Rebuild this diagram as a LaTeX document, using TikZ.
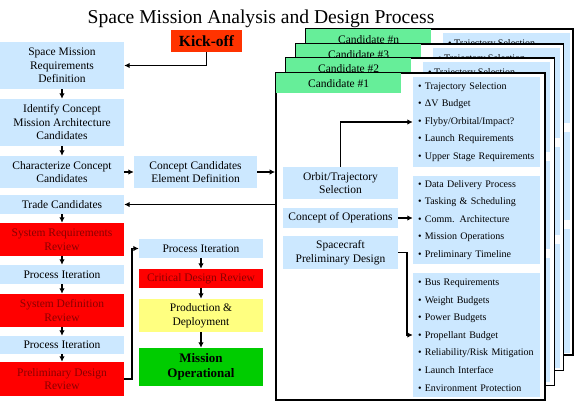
\documentclass[tikz,border=0pt]{standalone}
\usepackage{fontspec}
\setmainfont{Liberation Serif}
\usetikzlibrary{arrows.meta}
\definecolor{lblue}{HTML}{CCE8FF}
\definecolor{rbox}{HTML}{FF0000}
\definecolor{rtext}{HTML}{8A0000}
\definecolor{kick}{HTML}{FF3300}
\definecolor{ybox}{HTML}{FFFF80}
\definecolor{gbox}{HTML}{00CC00}
\definecolor{gtab}{HTML}{66EE99}
\begin{document}
\begin{tikzpicture}[x=1pt,y=-1pt,
  bx/.style={inner sep=0pt, align=center, font=\fontsize{11.5}{13.5}\selectfont},
  bluebox/.style={bx, fill=lblue},
  redbox/.style={bx, fill=rbox, text=rtext},
  arr/.style={line width=1.7pt, -{Latex[length=5.5pt,width=5.5pt]}},
  frame/.style={draw=black, line width=1.7pt, fill=white, inner sep=0pt},
  tab/.style={bx, fill=gtab, anchor=north west, minimum width=125pt, minimum height=20pt},
  list/.style={fill=lblue, inner xsep=5pt, inner ysep=0pt, align=left, text width=117pt, font=\fontsize{10}{17.6}\selectfont},
  item/.style={anchor=west, inner sep=0pt, font=\fontsize{10}{12}\selectfont},
  lw/.style={minimum width=124pt}
]
\useasboundingbox (0,0) rectangle (576,402);

% title
\node[anchor=base, inner sep=0pt, font=\fontsize{19.6}{22}\selectfont] (title) at (261,23) {Space Mission Analysis and Design Process};

% ---------- back frames ----------
% Candidate #n
\node[frame, minimum width=267pt, minimum height=326pt] (fn) at (439.5,192) {};
\fill[lblue] (443,33) rectangle (570,123);
\fill[lblue] (443,132) rectangle (570,220);
\fill[lblue] (443,229) rectangle (570,353);
\node[item] (tn) at (448,44) {• Trajectory Selection};
\node[tab] (cn) at (306,29) {Candidate \#n};
% Candidate #3
\node[frame, minimum width=267.5pt, minimum height=326.5pt] (f3) at (429.75,207.25) {};
\fill[lblue] (433,48) rectangle (560,138);
\fill[lblue] (433,147) rectangle (560,235);
\fill[lblue] (433,244) rectangle (560,368);
\node[item] (t3) at (438,59) {• Trajectory Selection};
\node[tab] (c3) at (296,44) {Candidate \#3};
% Candidate #2
\node[frame, minimum width=268.5pt, minimum height=327.5pt] (f2) at (420.25,221.75) {};
\fill[lblue] (423,62) rectangle (550,152);
\fill[lblue] (423,161) rectangle (550,249);
\fill[lblue] (423,258) rectangle (550,382);
\node[item] (t2) at (428,73) {• Trajectory Selection};
\node[tab] (c2) at (286,58) {Candidate \#2};

% ---------- frame #1 ----------
\node[frame, minimum width=269pt, minimum height=327pt] (f1) at (410.5,236.5) {};
\node[tab] (c1) at (276,73) {Candidate \#1};
\node[bluebox, minimum width=115pt, minimum height=32pt] (ots) at (340.5,183) {Orbit/Trajectory\\Selection};
\node[bluebox, minimum width=115pt, minimum height=20pt] (coo) at (340.5,218) {Concept of Operations};
\node[bluebox, minimum width=115pt, minimum height=33pt] (spd) at (340.5,252.5) {Spacecraft\\Preliminary Design};
\node[list, minimum height=90pt] (l1) at (476.5,122) {• Trajectory Selection\\• ΔV Budget\\• Flyby/Orbital/Impact?\\• Launch Requirements\\• Upper Stage Requirements};
\node[list, minimum height=88pt] (l2) at (476.5,220) {• Data Delivery Process\\• Tasking \& Scheduling\\• Comm. Architecture\\• Mission Operations\\• Preliminary Timeline};
\node[list, minimum height=124pt] (l3) at (476.5,335) {• Bus Requirements\\• Weight Budgets\\• Power Budgets\\• Propellant Budget\\• Reliability/Risk Mitigation\\• Launch Interface\\• Environment Protection};
\draw[arr] (ots.north) |- (l1.west);
\draw[arr] (coo.east) -- (coo.east -| l2.west);
\draw[arr] (spd.east) -- ++(9,0) |- (l3.west);

% ---------- left column ----------
\node[bx, fill=kick, minimum width=71pt, minimum height=22pt, font=\bfseries\fontsize{15.5}{17}\selectfont] (kick) at (206.5,41) {Kick-off};
\node[bluebox, lw, minimum height=47pt] (smr) at (62,65.5) {Space Mission\\Requirements\\Definition};
\node[bluebox, lw, minimum height=47pt] (ide) at (62,122.5) {Identify Concept\\Mission Architecture\\Candidates};
\node[bluebox, lw, minimum height=32pt] (cha) at (62,172) {Characterize Concept\\Candidates};
\node[bluebox, lw, minimum height=19pt] (tra) at (62,204.5) {Trade Candidates};
\node[redbox, lw, minimum height=33pt] (srr) at (62,239.5) {System Requirements\\Review};
\node[bluebox, lw, minimum height=19pt] (pi1) at (62,274.5) {Process Iteration};
\node[redbox, lw, minimum height=33pt] (sdr) at (62,310.5) {System Definition\\Review};
\node[bluebox, lw, minimum height=18pt] (pi2) at (62,345) {Process Iteration};
\node[redbox, lw, minimum height=34pt] (pdr) at (62,379) {Preliminary Design\\Review};

\node[bluebox, minimum width=123pt, minimum height=32pt] (ced) at (195.5,172) {Concept Candidates\\Element Definition};

\node[bluebox, minimum width=124pt, minimum height=19pt] (pi3) at (201,248.5) {Process Iteration};
\node[redbox, minimum width=124pt, minimum height=19pt] (cdr) at (201,278.5) {Critical Design Review};
\node[bx, fill=ybox, minimum width=124pt, minimum height=33pt] (pd) at (201,315.5) {Production \&\\Deployment};
\node[bx, fill=gbox, minimum width=124pt, minimum height=38pt, font=\bfseries\fontsize{13}{15.5}\selectfont] (mo) at (201,367) {Mission\\Operational};

% connectors
\draw[arr] (kick.south) |- (smr.east);
\draw[arr] (smr.south) -- (ide.north);
\draw[arr] (ide.south) -- (cha.north);
\draw[arr] (cha.east) -- (ced.west);
\draw[arr] (ced.east) -- (ced.east -| f1.west);
\draw[arr] (tra.east -| f1.west) -- (tra.east);
\draw[arr] (tra.south) -- (srr.north);
\draw[arr] (srr.south) -- (pi1.north);
\draw[arr] (pi1.south) -- (sdr.north);
\draw[arr] (sdr.south) -- (pi2.north);
\draw[arr] (pi2.south) -- (pdr.north);
\draw[arr] (pdr.east) -- ++(8,0) |- (pi3.west);
\draw[arr] (pi3.south) -- (cdr.north);
\draw[arr] (cdr.south) -- (pd.north);
\draw[arr] (pd.south) -- (mo.north);
\end{tikzpicture}
\end{document}
